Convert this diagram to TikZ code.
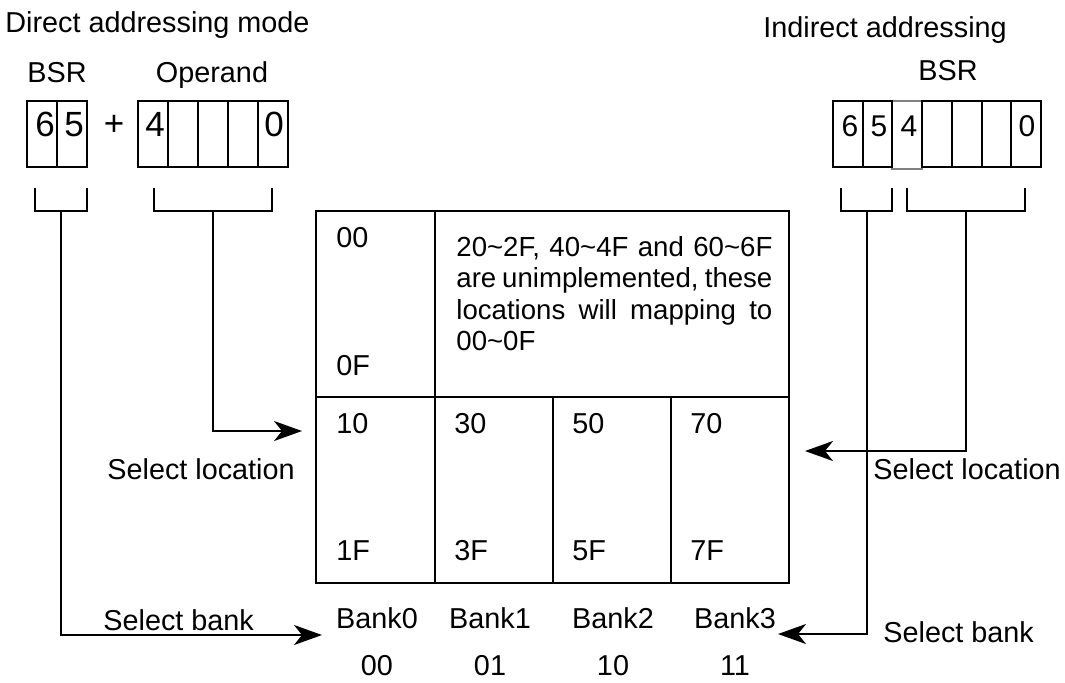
\documentclass[tikz,border=0pt]{standalone}
\usepackage{fontspec}
\setmainfont{Liberation Sans}
\usetikzlibrary{arrows.meta}
\tikzset{
  reg/.style={draw=black, line width=1pt},
  wire/.style={draw=black, line width=1pt},
  arr/.style={wire, -{Stealth[length=14pt,width=10pt,inset=4pt]}},
  lab/.style={font=\fontsize{14.4}{14}\selectfont, inner sep=0pt, anchor=base},
  labw/.style={lab, anchor=base west},
  bigbit/.style={lab, font=\fontsize{17.5}{17}\selectfont},
  bit/.style={lab, font=\fontsize{15}{15}\selectfont}
}
\begin{document}
\begin{tikzpicture}[x=0.5pt, y=-0.5pt]
  \useasboundingbox (0,0) rectangle (1065,682);

  % titles
  \node[labw] (titleD) at (5,32) {Direct addressing mode};
  \node[labw] (titleI) at (763,37) {Indirect addressing};

  % direct mode: BSR + operand
  \node[lab] (bsrDlab) at (57,82) {BSR};
  \node[lab] (opDlab) at (212,82) {Operand};
  \foreach \i in {0,1} \draw[reg] (27+30*\i,101) rectangle ++(30,66);
  \foreach \i in {0,...,4} \draw[reg] (138+30*\i,101) rectangle ++(30,66);
  \node[bigbit] (bD6) at (45,136) {6};
  \node[bigbit] (bD5) at (74,136) {5};
  \node[bigbit] (plus) at (114,135) {+};
  \node[bigbit] (oD4) at (155,136) {4};
  \node[bigbit] (oD0) at (274,136) {0};
  \draw[wire] (35,188) -- (35,211) -- (87,211) -- (87,188);
  \draw[wire] (154,188) -- (154,211) -- (272,211) -- (272,188);

  % indirect mode: BSR
  \node[lab] (bsrIlab) at (948,80) {BSR};
  \draw[reg, draw=gray] (892,101) rectangle (922,169);
  \foreach \i in {0,1,3,4,5,6} \draw[reg] (833+29.7*\i,101) rectangle ++(29.7,66);
  \node[bit] (bI6) at (850,136) {6};
  \node[bit] (bI5) at (879,136) {5};
  \node[bit] (bI4) at (909,136) {4};
  \node[bit] (bI0) at (1027,136) {0};
  \draw[wire] (841,188) -- (841,211) -- (892,211) -- (892,188);
  \draw[wire] (907,188) -- (907,211) -- (1025,211) -- (1025,188);

  % memory map
  \draw[reg] (316,211) rectangle (789,583);
  \draw[reg] (316,397) -- (789,397);
  \draw[reg] (435,211) -- (435,583);
  \draw[reg] (553,397) -- (553,583);
  \draw[reg] (671,397) -- (671,583);
  \node[labw] (lo00) at (336,247) {00};
  \node[labw] (hi0F) at (336,375) {0F};
  \node[lab, font=\fontsize{13.8}{15.7}\selectfont, anchor=north west,
        text width=158pt, align=justify] (note) at (456,236)
    {20\textasciitilde 2F, 40\textasciitilde 4F and 60\textasciitilde 6F\linebreak
     are unimplemented, these\linebreak
     locations will mapping to\linebreak
     00\textasciitilde 0F};
  \foreach \c/\lo/\hi/\bits/\xc in {0/10/1F/00/377, 1/30/3F/01/490, 2/50/5F/10/613, 3/70/7F/11/735} {
    \node[labw] (lo\c) at ({336+118*\c},433) {\lo};
    \node[labw] (hi\c) at ({336+118*\c},560) {\hi};
    \node[lab] (bank\c) at (\xc,628) {Bank\c};
    \node[lab] (bits\c) at (\xc,675) {\bits};
  }

  % select paths
  \coordinate (bsrD) at (61,211);
  \coordinate (opD) at (213,211);
  \coordinate (bsrI) at (867,211);
  \coordinate (opI) at (966,211);
  \coordinate (tipBankD) at (322,635);
  \coordinate (tipLocD) at (302,431);
  \coordinate (tipBankI) at (778,634);
  \coordinate (tipLocI) at (805,451);
  \draw[arr] (bsrD) |- (tipBankD);
  \draw[arr] (opD) |- (tipLocD);
  \draw[arr] (bsrI) |- (tipBankI);
  \draw[arr] (opI) |- (tipLocI);
  \node[labw] (selLocD) at (107,479) {Select location};
  \node[labw] (selBankD) at (103,630) {Select bank};
  \node[labw] (selLocI) at (873,479) {Select location};
  \node[labw] (selBankI) at (883,642) {Select bank};
\end{tikzpicture}
\end{document}
